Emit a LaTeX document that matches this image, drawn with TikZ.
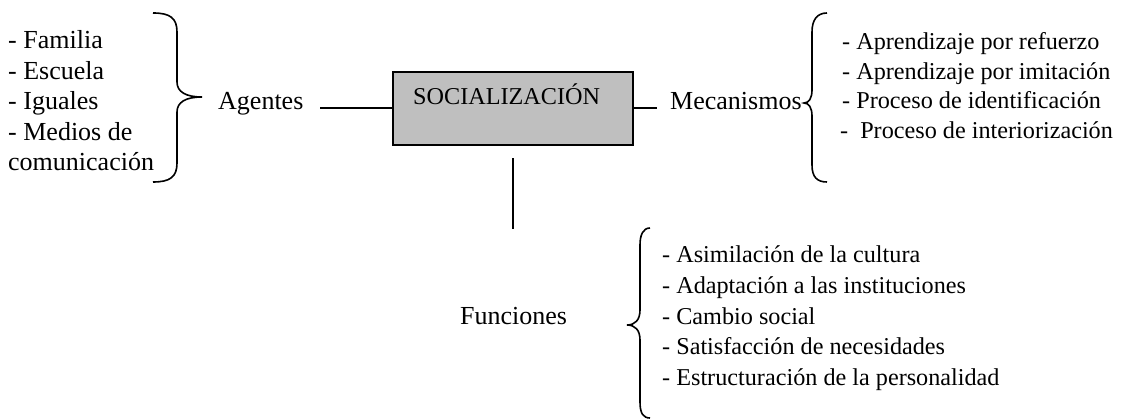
\documentclass[tikz,border=0pt]{standalone}
\usepackage{fontspec}
\setmainfont{Liberation Serif}
\begin{document}
\begin{tikzpicture}[x=1pt,y=-1pt,
  big/.style={inner sep=0pt,anchor=base west,font=\fontsize{26}{30}\selectfont},
  small/.style={inner sep=0pt,anchor=base west,font=\fontsize{24.2}{29}\selectfont},
  brace/.style={line width=1.6pt},
  conn/.style={line width=2pt},
  mainbox/.style={draw,line width=2.4pt,fill=gray!50,minimum width=240pt,minimum height=73pt,inner sep=0pt}]
\useasboundingbox (0,0) rectangle (1131,419);
% central box
\node[mainbox] (soc) at (513,108.5) {};
\node[small] (soctext) at (413,105) {SOCIALIZACIÓN};
% agentes
\node[big] (agentes) at (218,110) {Agentes};
\node[big] (l1) at (8,49) {- Familia};
\node[big] (l2) at (8,79.5) {- Escuela};
\node[big] (l3) at (8,110) {- Iguales};
\node[big] (l4) at (8,140.5) {- Medios de};
\node[big] (l5) at (8,171) {comunicación};
\draw[brace] (153,13) .. controls (170,13) and (177,18) .. (177,32)
  -- (177,82) .. controls (177,92) and (186,97) .. (202,97)
  .. controls (186,97) and (177,102) .. (177,112)
  -- (177,163) .. controls (177,177) and (170,182) .. (153,182);
\coordinate (aL) at (320,108.5);
\draw[conn] (aL) -- (soc.west);
% mecanismos
\node[big] (mec) at (670,110) {Mecanismos};
\coordinate (mL) at (657,108.5);
\draw[conn] (soc.east) -- (mL);
\draw[brace] (827,13) .. controls (817,13) and (812,20) .. (812,32)
  -- (812,90) .. controls (812,98) and (809,103) .. (804,103)
  .. controls (809,103) and (812,108) .. (812,116)
  -- (812,165) .. controls (812,177) and (817,182) .. (827,182);
\node[small] (r1) at (842,50) {- Aprendizaje por refuerzo};
\node[small] (r2) at (842,79.5) {- Aprendizaje por imitación};
\node[small] (r3) at (842,109) {- Proceso de identificación};
\node[small] (r4) at (840,138.5) {-\hspace{12pt}Proceso de interiorización};
% funciones
\coordinate (fEnd) at (513,229);
\draw[conn] ([yshift=-12pt]soc.south) -- (fEnd);
\node[big] (fun) at (460,324) {Funciones};
\draw[brace] (650,228) .. controls (643,228) and (640,235) .. (640,245)
  -- (640,310) .. controls (640,320) and (635,325) .. (627,325)
  .. controls (635,325) and (640,330) .. (640,340)
  -- (640,402) .. controls (640,413) and (643,418) .. (650,418);
\node[small] (b1) at (662,263) {- Asimilación de la cultura};
\node[small] (b2) at (662,293.5) {- Adaptación a las instituciones};
\node[small] (b3) at (662,324) {- Cambio social};
\node[small] (b4) at (662,354.5) {- Satisfacción de necesidades};
\node[small] (b5) at (662,385) {- Estructuración de la personalidad};
\end{tikzpicture}
\end{document}
